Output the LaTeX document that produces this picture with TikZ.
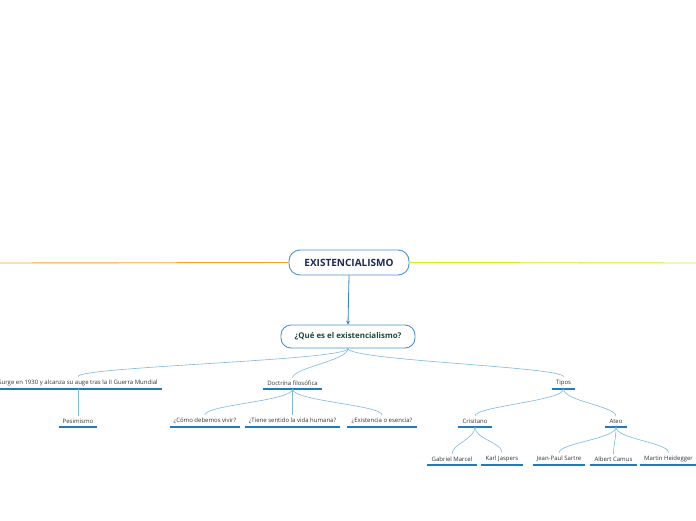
\documentclass[tikz,border=0pt]{standalone}
\usepackage{fontspec}
\setmainfont{Open Sans}
\usetikzlibrary{arrows.meta}
\definecolor{boxblue}{HTML}{4A93D6}
\definecolor{navy}{HTML}{1B2B55}
\definecolor{darkgreen}{HTML}{1E4A3C}
\definecolor{conn}{HTML}{7DB9DE}
\definecolor{ul}{HTML}{1F7BC0}
\definecolor{arrowblue}{HTML}{2D82C4}
\definecolor{orangeline}{HTML}{F5A41F}
\definecolor{limeline}{HTML}{CDF21A}
\definecolor{txt}{HTML}{333333}
\tikzset{
  mainbox/.style={draw=boxblue, line width=0.9pt, rounded corners=11pt, fill=white,
    minimum width=120pt, minimum height=25pt, font=\fontsize{10}{12}\selectfont\bfseries, text=navy},
  subbox/.style={draw=boxblue, line width=0.9pt, rounded corners=10pt, fill=white,
    minimum width=134pt, minimum height=23pt, font=\fontsize{7.9}{9}\selectfont\bfseries, text=darkgreen},
  leaf/.style={anchor=south, inner xsep=4pt, inner ysep=3pt, font=\fontsize{6}{7}\selectfont, text=txt,
    append after command={(\tikzlastnode.south west) edge[draw=ul, line width=1.3pt] (\tikzlastnode.south east)}},
  link/.style={draw=conn, line width=0.6pt},
}
\begin{document}
\begin{tikzpicture}[x=1pt,y=-1pt]
\useasboundingbox (0,0) rectangle (696,520);
\clip (0,0) rectangle (696,520);

\node[mainbox] (main) at (349,262.5) {EXISTENCIALISMO};
\node[subbox] (q) at (348,336.5) {¿Qué es el existencialismo?};

\coordinate (L) at (0,263);
\coordinate (R) at (696,263);
\draw[orangeline, line width=0.9pt] (L) -- (main.west);
\draw[limeline, line width=0.9pt] (main.east) -- (R);
\draw[arrowblue, line width=0.8pt, -{Stealth[length=4pt,width=4pt]}] (main.south) -- (q.north);

% level 2
\node[leaf] (surge) at (78,389) {Surge en 1930 y alcanza su auge tras la II Guerra Mundial};
\node[leaf] (doc) at (292.5,389) {Doctrina filosófica};
\node[leaf] (tipos) at (563.5,389) {Tipos};

% level 3
\node[leaf] (pes) at (78,427) {Pesimismo};
\node[leaf] (vivir) at (205,427) {¿Cómo debemos vivir?};
\node[leaf] (sentido) at (292.5,427) {¿Tiene sentido la vida humana?};
\node[leaf] (esencia) at (382,427) {¿Existencia o esencia?};
\node[leaf] (cris) at (475,427) {Crisitano};
\node[leaf] (ateo) at (616,427) {Ateo};

% level 4
\node[leaf] (gab) at (452,465) {Gabriel Marcel};
\node[leaf] (karl) at (502,465) {Karl Jaspers};
\node[leaf] (jps) at (559,465) {Jean-Paul Sartre};
\node[leaf] (cam) at (613.5,465) {Albert Camus};
\node[leaf] (hei) at (668.5,465) {Martin Heidegger};

% connectors
\draw[link] (q.south) .. controls +(0,12) and +(0,-10) .. (surge.north);
\draw[link] (q.south) .. controls +(0,12) and +(0,-10) .. (doc.north);
\draw[link] (q.south) .. controls +(0,12) and +(0,-10) .. (tipos.north);

\draw[link] (surge.south) -- (pes.north);
\draw[link] (doc.south) .. controls +(0,12) and +(0,-10) .. (vivir.north);
\draw[link] (doc.south) -- (sentido.north);
\draw[link] (doc.south) .. controls +(0,12) and +(0,-10) .. (esencia.north);
\draw[link] (tipos.south) .. controls +(0,12) and +(0,-10) .. (cris.north);
\draw[link] (tipos.south) .. controls +(0,12) and +(0,-10) .. (ateo.north);

\draw[link] (cris.south) .. controls +(0,12) and +(0,-10) .. (gab.north);
\draw[link] (cris.south) .. controls +(0,12) and +(0,-10) .. (karl.north);
\draw[link] (ateo.south) .. controls +(0,12) and +(0,-10) .. (jps.north);
\draw[link] (ateo.south) .. controls +(0,12) and +(0,-10) .. (cam.north);
\draw[link] (ateo.south) .. controls +(0,12) and +(0,-10) .. (hei.north);
\end{tikzpicture}
\end{document}
